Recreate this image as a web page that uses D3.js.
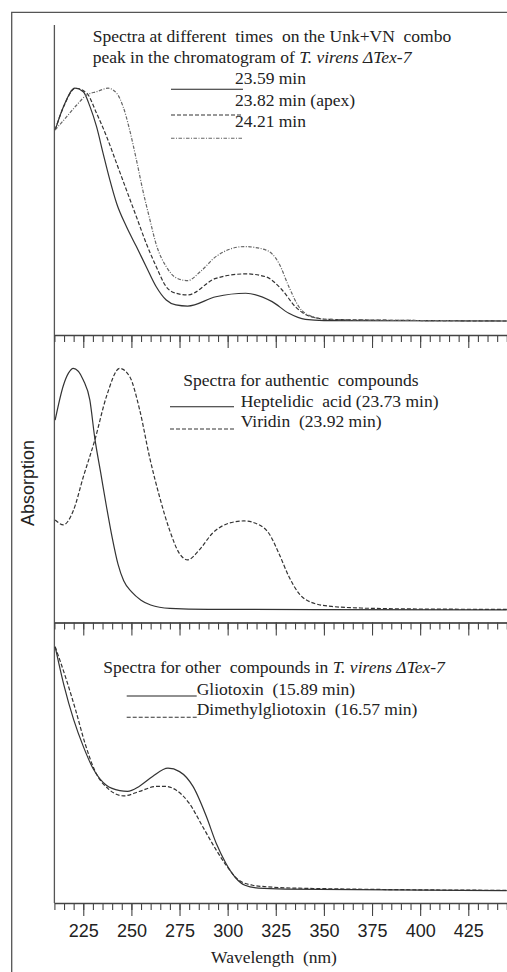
<!DOCTYPE html>
<html lang="en">
  <head>
    <meta charset="UTF-8" />
    <title>UV spectra</title>
    <script src="https://cdn.jsdelivr.net/npm/d3@7"></script>
    <style>
      body { margin: 0; background: #fff; }
      svg { display: block; }
      .serif {
        font-family: "Liberation Serif", "Times New Roman", serif;
        font-size: 17.5px;
        fill: #222;
        white-space: pre;
      }
      .sans { font-family: "Liberation Sans", Arial, sans-serif; fill: #222; }
    </style>
  </head>
  <body>
    <svg id="chart" width="507" height="972"></svg>
    <script>
      // x axis (nm)
      const xDomain = [210, 450];
      const majorTicks = [225, 250, 275, 300, 325, 350, 375, 400, 425];

      // top panel: spectra across the Unk+VN peak  [wavelength, relative absorption]
      const spec2359 = [
        [210.4, 0.821], [214.7, 0.921], [220.7, 1.0], [225, 0.985], [228.5, 0.921],
        [231.9, 0.835], [235.3, 0.721], [238.8, 0.607], [242.3, 0.507], [247.4, 0.407],
        [252.6, 0.321], [257.7, 0.235], [262.9, 0.149], [268.1, 0.092], [273.1, 0.071],
        [279.2, 0.066], [293.9, 0.106], [309.4, 0.121], [323.1, 0.085], [331.8, 0.035],
        [340.4, 0.009], [350, 0.004], [445, 0.002]
      ];
      const spec2382 = [
        [210.4, 0.821], [215, 0.925], [221, 1.0], [226.8, 0.979], [231.9, 0.893],
        [237.1, 0.793], [242.3, 0.678], [247.4, 0.564], [252.6, 0.449], [257.7, 0.335],
        [262.9, 0.235], [268.1, 0.149], [273.1, 0.121], [279.2, 0.114], [293.9, 0.185],
        [309.4, 0.204], [319.7, 0.192], [328.3, 0.135], [335.2, 0.063], [342.1, 0.024],
        [352.4, 0.009], [445, 0.002]
      ];
      const spec2421 = [
        [210.4, 0.821], [216.4, 0.878], [221.6, 0.928], [226.8, 0.971], [231.9, 0.985],
        [237.9, 1.0], [242.3, 0.979], [245.7, 0.921], [249.1, 0.821], [252.6, 0.693],
        [256, 0.56], [259.5, 0.44], [262.9, 0.33], [268.1, 0.235], [273.1, 0.188],
        [279.2, 0.175], [286, 0.215], [293.9, 0.278], [308.5, 0.321], [319.7, 0.307],
        [326.6, 0.25], [331.8, 0.149], [337, 0.063], [343.8, 0.021], [352, 0.009],
        [445, 0.002]
      ];

      // middle panel: authentic compounds
      const heptelidic = [
        [210.4, 0.786], [214.7, 0.93], [217.3, 0.98], [219.8, 1.0], [225, 0.952],
        [228.4, 0.869], [231, 0.71], [234, 0.57], [237, 0.43], [240, 0.3],
        [243, 0.19], [246, 0.12], [250, 0.075], [255, 0.04], [260, 0.02],
        [270, 0.006], [290, 0.002], [445, 0.0]
      ];
      const viridin = [
        [210.4, 0.372], [214.7, 0.352], [219.8, 0.41], [225, 0.55], [231, 0.703],
        [237.1, 0.885], [243.9, 1.0], [249.1, 0.966], [254.3, 0.828], [259.4, 0.634],
        [264.6, 0.469], [269.8, 0.331], [274.9, 0.234], [279.2, 0.207], [285.3, 0.248],
        [292.1, 0.317], [300.8, 0.359], [308.5, 0.368], [316.3, 0.352], [321.4, 0.317],
        [326.6, 0.234], [331.8, 0.138], [336.9, 0.069], [343.8, 0.03], [354.1, 0.014],
        [371.3, 0.007], [405.8, 0.003], [445, 0.002]
      ];

      // bottom panel: other compounds
      const gliotoxin = [
        [210.4, 1.0], [215, 0.84], [220, 0.7], [225, 0.59], [230, 0.5],
        [237, 0.43], [244, 0.408], [248, 0.405], [254, 0.425], [261, 0.466],
        [269, 0.5], [275, 0.486], [282, 0.425], [289, 0.3], [294, 0.192],
        [299, 0.11], [304, 0.05], [309, 0.018], [316, 0.006], [330, 0.002],
        [445, -0.004]
      ];
      const dimethylgliotoxin = [
        [210.4, 1.0], [216, 0.87], [221, 0.74], [226, 0.6], [231, 0.49],
        [238, 0.415], [246, 0.386], [254, 0.404], [263, 0.425], [268, 0.425],
        [273, 0.411], [280, 0.356], [287, 0.26], [294, 0.164], [299, 0.103],
        [306, 0.038], [313, 0.018], [320, 0.012], [337, 0.006], [445, -0.003]
      ];

      const svg = d3.select("#chart");
      const left = 54.4;
      const x = d3.scaleLinear().domain(xDomain).range([left, left + 240 * 1.925]);

      const solid = { color: "#333", dash: null };
      const dashed = { color: "#333", dash: "4,2" };
      const dashDot = { color: "#666", dash: "3.5,1.5,1,1.5" };

      const panels = [
        {
          top: 25, bottom: 335, yDomain: [-0.058, 1.271],
          series: [[spec2359, solid], [spec2382, dashed], [spec2421, dashDot]]
        },
        {
          top: 335, bottom: 622.5, yDomain: [-0.0525, 1.138],
          series: [[heptelidic, solid], [viridin, dashed]]
        },
        {
          top: 622.5, bottom: 903, yDomain: [-0.055, 1.1],
          series: [[gliotoxin, solid], [dimethylgliotoxin, dashed]]
        }
      ];

      // outer frame (cut by the right and bottom edges)
      svg.append("path")
        .attr("d", "M11.7,972 V12.3 H507")
        .attr("fill", "none")
        .attr("stroke", "#555")
        .attr("stroke-width", 1.3);

      // shared left axis
      svg.append("line")
        .attr("x1", left).attr("x2", left)
        .attr("y1", 25).attr("y2", 903)
        .attr("stroke", "#555")
        .attr("stroke-width", 1.3);

      panels.forEach((p, i) => {
        const y = d3.scaleLinear().domain(p.yDomain).range([p.bottom, p.top]);
        const line = d3.line()
          .x((d) => x(d[0]))
          .y((d) => y(d[1]))
          .curve(d3.curveMonotoneX);

        p.series.forEach(([data, style]) => {
          svg.append("path")
            .datum(data)
            .attr("fill", "none")
            .attr("stroke", style.color)
            .attr("stroke-width", 1.2)
            .attr("stroke-dasharray", style.dash)
            .attr("d", line);
        });

        // minor ticks every 5 nm, major every 25 nm
        svg.append("g")
          .attr("transform", `translate(0,${p.bottom})`)
          .call(d3.axisBottom(x).tickValues(d3.range(210, 451, 5)).tickSize(7).tickSizeOuter(0).tickFormat(""))
          .call((g) => g.selectAll("line, path").attr("stroke", "#444").attr("stroke-width", 1.1));

        const major = svg.append("g")
          .attr("transform", `translate(0,${p.bottom})`)
          .call(d3.axisBottom(x).tickValues(majorTicks).tickSize(13).tickSizeOuter(0)
            .tickFormat(i === 2 ? d3.format("d") : ""));
        major.selectAll("line, path").attr("stroke", "#444").attr("stroke-width", 1.1);
        major.select(".domain").attr("stroke-width", 1.3);
        major.selectAll("text")
          .attr("class", "sans")
          .attr("font-size", 18)
          .attr("y", 21)
          .attr("dy", "0.71em");
      });

      // text blocks
      function label(xp, yp, parts) {
        const t = svg.append("text").attr("class", "serif").attr("x", xp).attr("y", yp);
        parts.forEach((s) => {
          const span = t.append("tspan").text(typeof s === "string" ? s : s.i);
          if (typeof s !== "string") span.attr("font-style", "italic");
        });
      }
      function key(x1, x2, yp, style) {
        svg.append("line")
          .attr("x1", x1).attr("x2", x2).attr("y1", yp).attr("y2", yp)
          .attr("stroke", style.dash === null ? "#222" : style.color)
          .attr("stroke-width", 1.1)
          .attr("stroke-dasharray", style.dash);
      }

      label(92.7, 41.7, ["Spectra at different  times  on the Unk+VN  combo"]);
      label(92.7, 63.3, ["peak in the chromatogram of ", { i: "T. virens ΔTex-7" }]);
      label(235, 84, ["23.59 min"]);
      label(235, 106, ["23.82 min (apex)"]);
      label(235, 127.3, ["24.21 min"]);
      key(171, 243, 89.3, solid);
      key(171, 243, 115, dashed);
      key(171, 243, 138.3, dashDot);

      label(183.3, 385.7, ["Spectra for authentic  compounds"]);
      label(240.7, 406.7, ["Heptelidic  acid (23.73 min)"]);
      label(240.7, 427.3, ["Viridin  (23.92 min)"]);
      key(170, 234, 406.7, solid);
      key(170, 234, 429, dashed);

      label(103.3, 673.3, ["Spectra for other  compounds in ", { i: "T. virens ΔTex-7" }]);
      label(196.7, 695, ["Gliotoxin  (15.89 min)"]);
      label(196.7, 715, ["Dimethylgliotoxin  (16.57 min)"]);
      key(126.7, 196.7, 696, solid);
      key(126.7, 196.7, 717.3, dashed);

      // axis titles
      svg.append("text")
        .attr("class", "sans")
        .attr("font-size", 18)
        .attr("text-anchor", "middle")
        .attr("transform", "translate(33.5,483) rotate(-90)")
        .text("Absorption");

      svg.append("text")
        .attr("class", "serif")
        .attr("font-size", 17)
        .attr("text-anchor", "middle")
        .attr("x", 274)
        .attr("y", 963)
        .text("Wavelength  (nm)");
    </script>
  </body>
</html>
